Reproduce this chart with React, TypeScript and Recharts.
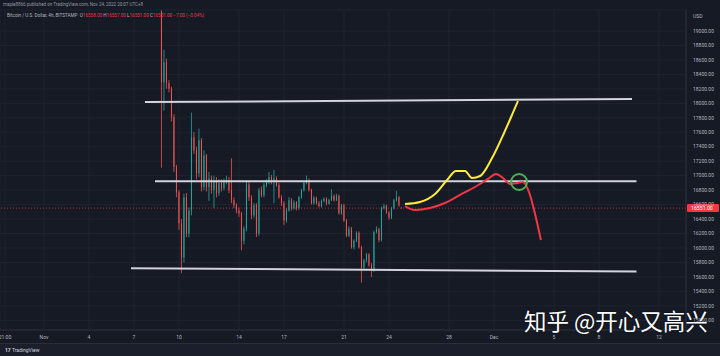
import React from 'react';
import {
  ComposedChart,
  Bar,
  Line,
  XAxis,
  YAxis,
  CartesianGrid,
  ReferenceLine,
  ReferenceDot,
} from 'recharts';

// time unit = days since Nov 1 00:00 (UTC+8); first visible 4h candle opens Nov 8 20:00
const FIRST_BAR = 7 + 20 / 24;
const BAR_STEP = 4 / 24;

const opens = [
  19270, 18290, 18570, 18280, 18200, 17810, 17120, 16770, 16340, 15870,
  16700, 16200, 16520, 17530, 17350, 17030, 17490, 16840, 17280, 16840,
  16960, 16800, 16940, 16760, 16900, 16830, 16910, 16940, 16800, 16660,
  16590, 16520, 16480, 16100, 16270, 16880, 16700, 16450, 16590, 16200,
  16800, 16730, 16870, 16910, 16980, 16910, 16960, 16870, 16700, 16620,
  16380, 16520, 16660, 16550, 16630, 16550, 16700, 16800, 16900, 16940,
  16800, 16620, 16690, 16620, 16580, 16650, 16680, 16610, 16660, 16720,
  16660, 16720, 16480, 16590, 16380, 16170, 16270, 16010, 16100, 16210,
  16010, 15730, 15830, 15910, 15760, 15690, 16220, 16260, 16110, 16550,
  16580, 16490, 16420, 16550, 16660, 16700, 16558,
];
const highs = [
  19285, 18740, 18620, 18320, 18230, 17850, 17150, 16800, 16400, 16750,
  16760, 16560, 17870, 17600, 17400, 17650, 17520, 17350, 17300, 17050,
  17000, 17000, 16980, 16950, 16950, 16960, 17000, 16980, 17240, 16700,
  16620, 16560, 16500, 16300, 16920, 16920, 16730, 16620, 16620, 16830,
  16850, 16900, 16950, 17050, 17010, 17080, 16990, 16900, 16730, 16650,
  16550, 16700, 16690, 16660, 16650, 16720, 16820, 16920, 17000, 16960,
  16820, 16720, 16710, 16650, 16670, 16700, 16700, 16680, 16810, 16740,
  16750, 16740, 16610, 16610, 16400, 16300, 16290, 16120, 16230, 16230,
  16030, 15850, 15930, 15930, 15790, 16240, 16300, 16280, 16570, 16610,
  16600, 16510, 16570, 16680, 16790, 16720, 16560,
];
const lows = [
  17110, 17900, 18200, 18150, 17750, 17050, 16700, 16250, 15650, 15800,
  16150, 16150, 16450, 17300, 16950, 16980, 16780, 16800, 16780, 16650,
  16750, 16550, 16700, 16720, 16780, 16800, 16880, 16760, 16620, 16550,
  16480, 16430, 15970, 16050, 16230, 16650, 16400, 16420, 16150, 16170,
  16700, 16700, 16840, 16880, 16880, 16620, 16850, 16680, 16580, 16320,
  16350, 16500, 16520, 16530, 16520, 16530, 16680, 16780, 16880, 16780,
  16600, 16600, 16600, 16560, 16560, 16630, 16590, 16600, 16650, 16640,
  16650, 16460, 16460, 16360, 16150, 16150, 15990, 15980, 16080, 15990,
  15520, 15700, 15800, 15740, 15600, 15670, 16200, 16080, 16090, 16530,
  16470, 16390, 16400, 16530, 16640, 16570, 16551,
];
const closes = [
  18290, 18570, 18280, 18200, 17810, 17120, 16770, 16340, 15870, 16700,
  16200, 16520, 17530, 17350, 17030, 17490, 16840, 17280, 16840, 16960,
  16800, 16940, 16760, 16900, 16830, 16910, 16940, 16800, 16660, 16590,
  16520, 16480, 16100, 16270, 16880, 16700, 16450, 16590, 16200, 16800,
  16730, 16870, 16910, 16980, 16910, 16960, 16870, 16700, 16620, 16380,
  16520, 16660, 16550, 16630, 16550, 16700, 16800, 16900, 16940, 16800,
  16620, 16690, 16620, 16580, 16650, 16680, 16610, 16660, 16720, 16660,
  16720, 16480, 16590, 16380, 16170, 16270, 16010, 16100, 16210, 16010,
  15730, 15830, 15910, 15760, 15690, 16220, 16260, 16110, 16550, 16580,
  16490, 16420, 16550, 16660, 16700, 16590, 16551,
];

// hand-drawn projections (t in days, p in USD)
const yellowT = [24.07, 25.07, 26.07, 26.87, 27.47, 28.07, 28.53, 29.07, 29.87, 30.67, 31.2, 31.6];
const yellowP = [16608, 16636, 16746, 16940, 17064, 17064, 16968, 16995, 17244, 17590, 17839, 18032];
const redT = [24.07, 24.73, 25.73, 26.73, 27.73, 28.73, 29.6, 30.13, 30.6, 31.07, 31.53, 31.93, 32.4, 32.8, 33.13];
const redP = [16580, 16525, 16553, 16622, 16733, 16843, 16954, 17023, 16968, 16885, 16898, 16912, 16733, 16415, 16110];

// channel lines: [t1, p1, t2, p2]
const channelLines = [
  [6.73, 18017, 39.2, 18058],
  [7.4, 16922, 39.5, 16922],
  [5.8, 15718, 39.5, 15676],
];

const priceTicks = [
  15000, 15200, 15400, 15600, 15800, 16000, 16200, 16400, 16600, 16800,
  17000, 17200, 17400, 17600, 17800, 18000, 18200, 18400, 18600, 18800, 19000,
];
const timeTicks = [-2.6, 0, 3, 6, 9, 13, 16, 20, 23, 27, 30, 34, 37, 41];
const timeLabels = ['21:00', 'Nov', '4', '7', '10', '14', '17', '21', '24', '28', 'Dec', '5', '8', '12'];

const LAST_PRICE = 16551;
const UP = '#26a69a';
const DOWN = '#ef5350';
const BG = '#161a25';
const TEXT = '#b2b5be';

const candles = closes.map((close, i) => ({
  t: FIRST_BAR + i * BAR_STEP,
  open: opens[i],
  high: highs[i],
  low: lows[i],
  close,
}));
const yellow = yellowT.map((t, i) => ({ t, p: yellowP[i] }));
const red = redT.map((t, i) => ({ t, p: redP[i] }));

function Candle(props: any) {
  const { x, y, width, height, payload } = props;
  if (!payload) return null;
  const top = Math.min(y, y + height);
  const bottom = Math.max(y, y + height);
  const { open, close, high, low } = payload;
  const span = high - low || 1;
  const py = (v: number) => top + ((high - v) / span) * (bottom - top);
  const color = close >= open ? UP : DOWN;
  const bTop = py(Math.max(open, close));
  const bBot = py(Math.min(open, close));
  const cx = x + width / 2;
  return (
    <g>
      <line x1={cx} x2={cx} y1={top} y2={bottom} stroke={color} strokeWidth={0.8} />
      <rect x={x} y={bTop} width={width} height={Math.max(0.8, bBot - bTop)} fill={color} />
    </g>
  );
}

function PriceTag(props: any) {
  const { viewBox } = props;
  if (!viewBox) return null;
  const x = viewBox.x + viewBox.width + 1;
  const y = viewBox.y;
  return (
    <g>
      <rect x={x} y={y - 4} width={32} height={8} rx={1} fill="#f23645" />
      <text x={x + 4} y={y + 2} fontSize={5.2} fill="#ffffff" fontFamily="Roboto, sans-serif">
        {LAST_PRICE.toFixed(2)}
      </text>
    </g>
  );
}

export default function App() {
  const red2 = '#f23645';
  return (
    <div
      style={{
        position: 'fixed',
        left: 0,
        top: 0,
        width: 720,
        height: 356,
        background: BG,
        overflow: 'hidden',
        fontFamily: 'Roboto, "Noto Sans", sans-serif',
      }}
    >
      <ComposedChart
        width={720}
        height={343}
        data={candles}
        margin={{ top: 10, right: 0, bottom: 0, left: 0 }}
      >
        <CartesianGrid stroke="#1f2330" strokeWidth={1} />
        <XAxis
          type="number"
          dataKey="t"
          domain={[-2.933, 42.8]}
          allowDataOverflow
          ticks={timeTicks}
          tickFormatter={(v: number) => timeLabels[timeTicks.indexOf(v)] ?? ''}
          tick={{ fontSize: 5, fill: TEXT }}
          tickLine={false}
          tickSize={0}
          tickMargin={5}
          axisLine={{ stroke: '#2a2e39' }}
          height={13}
          interval={0}
        />
        <YAxis
          orientation="right"
          type="number"
          domain={[14866, 19290]}
          allowDataOverflow
          ticks={priceTicks}
          tickFormatter={(v: number) => v.toFixed(2)}
          tick={{ fontSize: 5, fill: TEXT, textAnchor: 'start' }}
          tickLine={false}
          tickSize={0}
          tickMargin={7}
          axisLine={{ stroke: '#2a2e39' }}
          width={34}
          interval={0}
        />
        <ReferenceLine
          y={LAST_PRICE}
          stroke={red2}
          strokeOpacity={0.7}
          strokeDasharray="1 2"
          label={<PriceTag />}
        />
        <Bar
          dataKey={(d: any) => [d.low, d.high]}
          barSize={2}
          shape={<Candle />}
          isAnimationActive={false}
        />
        {channelLines.map(([t1, p1, t2, p2], i) => (
          <ReferenceLine
            key={i}
            segment={[
              { x: t1, y: p1 },
              { x: t2, y: p2 },
            ]}
            stroke="#d1d4dc"
            strokeWidth={2}
          />
        ))}
        <Line
          data={yellow}
          dataKey="p"
          type="monotone"
          stroke="#ffeb3b"
          strokeWidth={2}
          dot={false}
          isAnimationActive={false}
        />
        <Line
          data={red}
          dataKey="p"
          type="monotone"
          stroke={red2}
          strokeWidth={2}
          dot={false}
          isAnimationActive={false}
        />
        <ReferenceDot x={31.67} y={16912} r={8} fill="none" stroke="#4caf50" strokeWidth={2} />
      </ComposedChart>

      <div style={{ position: 'absolute', left: 3, top: 2, fontSize: 4.5, color: '#9598a1', whiteSpace: 'nowrap' }}>
        maple8866 published on TradingView.com, Nov 24, 2022 20:07 UTC+8
      </div>
      <div style={{ position: 'absolute', left: 7, top: 13, fontSize: 4.6, color: TEXT, whiteSpace: 'nowrap' }}>
        Bitcoin / U.S. Dollar, 4h, BITSTAMP&nbsp;&nbsp;O<span style={{ color: red2 }}>16558.00</span> H
        <span style={{ color: red2 }}>16557.00</span> L<span style={{ color: red2 }}>16551.00</span> C
        <span style={{ color: red2 }}>16551.00</span> <span style={{ color: red2 }}>−7.00 (−0.04%)</span>
      </div>
      <div style={{ position: 'absolute', left: 693, top: 13, fontSize: 5, color: TEXT }}>USD</div>
      <div
        style={{
          position: 'absolute',
          left: 0,
          top: 343,
          width: 720,
          height: 13,
          background: '#1b1f2b',
          borderTop: '1px solid #2a2e39',
        }}
      >
        <div style={{ position: 'absolute', left: 5, top: 3, fontSize: 5, color: '#d1d4dc', whiteSpace: 'nowrap' }}>
          <b>17</b> TradingView
        </div>
      </div>
      <div
        style={{
          position: 'absolute',
          left: 524,
          top: 309,
          fontSize: 22.5,
          lineHeight: 1,
          color: '#ffffff',
          whiteSpace: 'nowrap',
          fontFamily: '"Noto Sans CJK SC", sans-serif',
          textShadow: '0 0 2px rgba(0,0,0,0.6)',
        }}
      >
        知乎 @开心又高兴
      </div>
    </div>
  );
}
